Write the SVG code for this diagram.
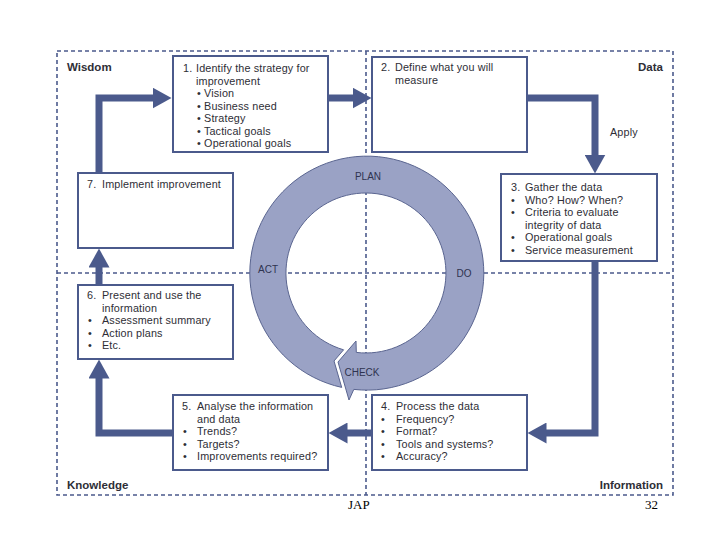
<svg xmlns="http://www.w3.org/2000/svg" width="720" height="540" viewBox="0 0 720 540">
<style>
.frame{fill:none;stroke:#4b5a8c;stroke-width:1.6;stroke-dasharray:4 3}
.box{fill:#fff;stroke:#4b5a8c;stroke-width:2}
.arr{fill:none;stroke:#4b5a8c;stroke-width:7;stroke-linejoin:miter}
.t{font-family:"Liberation Sans",Arial,sans-serif;font-size:10.8px;letter-spacing:0.15px;fill:#2e2e36}
.lbl{font-family:"Liberation Sans",Arial,sans-serif;font-size:11.5px;font-weight:bold;fill:#2e2e36}
.ring{fill:#9aa2c5;stroke:#5a6590;stroke-width:1}
.rt{font-family:"Liberation Sans",Arial,sans-serif;font-size:10px;fill:#2e3350;text-anchor:middle}
.ft{font-family:"Liberation Serif",serif;font-size:13px;fill:#000}
</style>
<defs>
<marker id="head" markerUnits="userSpaceOnUse" markerWidth="19" markerHeight="21" viewBox="0 0 19 21" refX="0.5" refY="10.5" orient="auto">
<path d="M0,0 L19,10.5 L0,21 Z" fill="#4b5a8c"/>
</marker>
</defs>
<g id="frame">
<rect class="frame" x="57" y="51" width="616" height="444"/>
<line class="frame" x1="366" y1="51" x2="366" y2="495"/>
<line class="frame" x1="57" y1="273" x2="673" y2="273"/>
</g>
<g id="quadrant-labels">
<text class="lbl" x="67" y="71">Wisdom</text>
<text class="lbl" x="663" y="71" text-anchor="end">Data</text>
<text class="lbl" x="67" y="489">Knowledge</text>
<text class="lbl" x="663" y="489" text-anchor="end">Information</text>
</g>
<g id="cycle">
<path class="ring" d="M 341.7,387.4 A 117 117 0 1 1 353.8,389.4 L 349,400 L 338,362 L 356,341 L 356.3,352.4 A 80 80 0 1 0 343.6,349.8 L 334,361 Z"/>
<text class="rt" x="368" y="180">PLAN</text>
<text class="rt" x="464" y="277">DO</text>
<text class="rt" x="268" y="273">ACT</text>
<text class="rt" x="362" y="376">CHECK</text>
</g>
<g id="connectors">
<path class="arr" d="M99,173 L99,98 L153,98" marker-end="url(#head)"/>
<path class="arr" d="M328,98 L353,98" marker-end="url(#head)"/>
<path class="arr" d="M527,98 L595,98 L595,155" marker-end="url(#head)"/>
<path class="arr" d="M595,261 L595,433 L546,433" marker-end="url(#head)"/>
<path class="arr" d="M372,433 L347,433" marker-end="url(#head)"/>
<path class="arr" d="M173,433 L99,433 L99,378" marker-end="url(#head)"/>
<path class="arr" d="M99,285 L99,267" marker-end="url(#head)"/>
<text class="t" x="610" y="136">Apply</text>
</g>
<g id="step1">
<rect class="box" x="173" y="56" width="155" height="96"/>
<text class="t" x="183" y="72">1.</text>
<text class="t" x="196" y="72">Identify the strategy for</text>
<text class="t" x="196" y="84.5">improvement</text>
<text class="t" x="197" y="97">• Vision</text>
<text class="t" x="197" y="109.5">• Business need</text>
<text class="t" x="197" y="122">• Strategy</text>
<text class="t" x="197" y="134.5">• Tactical goals</text>
<text class="t" x="197" y="147">• Operational goals</text>
</g>
<g id="step2">
<rect class="box" x="372" y="57" width="155" height="95"/>
<text class="t" x="381" y="71">2.</text>
<text class="t" x="395" y="71">Define what you will</text>
<text class="t" x="395" y="83.5">measure</text>
</g>
<g id="step3">
<rect class="box" x="501" y="174" width="156" height="87"/>
<text class="t" x="511" y="191">3.</text>
<text class="t" x="525" y="191">Gather the data</text>
<text class="t" x="511" y="203.5">•</text><text class="t" x="525" y="203.5">Who? How? When?</text>
<text class="t" x="511" y="216">•</text><text class="t" x="525" y="216">Criteria to evaluate</text>
<text class="t" x="525" y="228.5">integrity of data</text>
<text class="t" x="511" y="241">•</text><text class="t" x="525" y="241">Operational goals</text>
<text class="t" x="511" y="253.5">•</text><text class="t" x="525" y="253.5">Service measurement</text>
</g>
<g id="step4">
<rect class="box" x="372" y="395" width="155" height="75"/>
<text class="t" x="381" y="410">4.</text>
<text class="t" x="396" y="410">Process the data</text>
<text class="t" x="381" y="422.5">•</text><text class="t" x="396" y="422.5">Frequency?</text>
<text class="t" x="381" y="435">•</text><text class="t" x="396" y="435">Format?</text>
<text class="t" x="381" y="447.5">•</text><text class="t" x="396" y="447.5">Tools and systems?</text>
<text class="t" x="381" y="460">•</text><text class="t" x="396" y="460">Accuracy?</text>
</g>
<g id="step5">
<rect class="box" x="173" y="395" width="155" height="75"/>
<text class="t" x="182" y="410">5.</text>
<text class="t" x="197" y="410">Analyse the information</text>
<text class="t" x="197" y="422.5">and data</text>
<text class="t" x="183" y="435">•</text><text class="t" x="197" y="435">Trends?</text>
<text class="t" x="183" y="447.5">•</text><text class="t" x="197" y="447.5">Targets?</text>
<text class="t" x="183" y="460">•</text><text class="t" x="197" y="460">Improvements required?</text>
</g>
<g id="step6">
<rect class="box" x="78" y="285" width="155" height="74"/>
<text class="t" x="87" y="299">6.</text>
<text class="t" x="102" y="299">Present and use the</text>
<text class="t" x="102" y="311.5">information</text>
<text class="t" x="88" y="324">•</text><text class="t" x="102" y="324">Assessment summary</text>
<text class="t" x="88" y="336.5">•</text><text class="t" x="102" y="336.5">Action plans</text>
<text class="t" x="88" y="349">•</text><text class="t" x="102" y="349">Etc.</text>
</g>
<g id="step7">
<rect class="box" x="78" y="173" width="155" height="75"/>
<text class="t" x="87" y="188">7.</text>
<text class="t" x="102" y="188">Implement improvement</text>
</g>
<g id="footer">
<text class="ft" x="348" y="509">JAP</text>
<text class="ft" x="645" y="509">32</text>
</g>
</svg>
